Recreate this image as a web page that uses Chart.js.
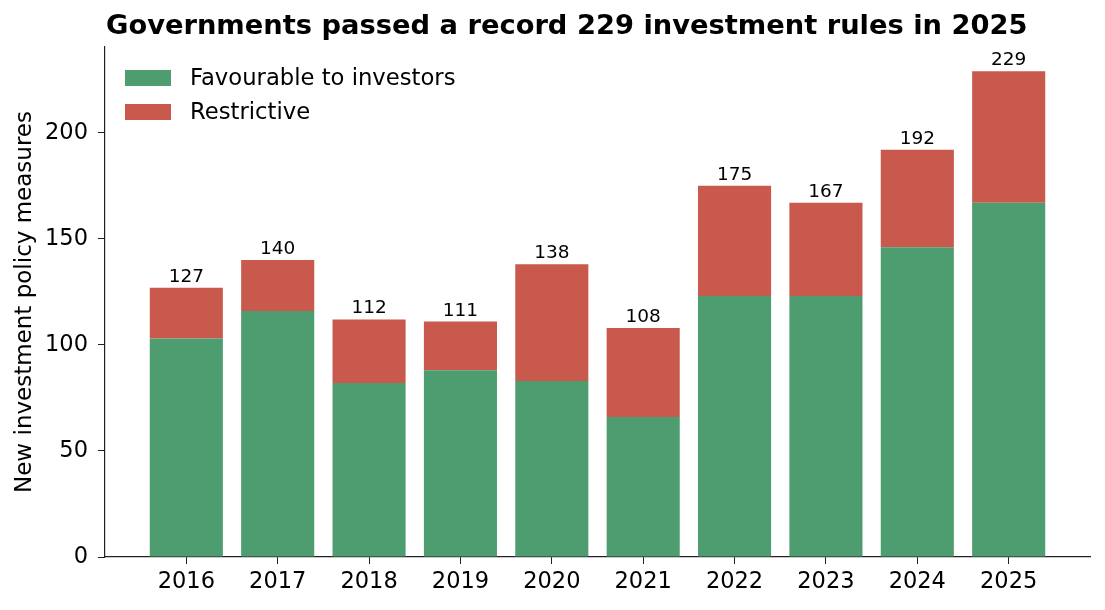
<!DOCTYPE html>
<html>
<head>
<meta charset="utf-8">
<script src="https://cdn.jsdelivr.net/npm/chart.js@4"></script>
<style>
  html, body { margin: 0; padding: 0; background: #fff; }
  #wrap { width: 1105px; height: 610px; }
</style>
</head>
<body>
<div id="wrap"><canvas id="chart"></canvas></div>
<script>
const years = ['2016','2017','2018','2019','2020','2021','2022','2023','2024','2025'];
const favourable = [103, 116, 82, 88, 83, 66, 123, 123, 146, 167];
const restrictive = [24, 24, 30, 23, 55, 42, 52, 44, 46, 62];
const totals = [127, 140, 112, 111, 138, 108, 175, 167, 192, 229];
const yTicks = [0, 50, 100, 150, 200];

const FONT = "'DejaVu Sans', sans-serif";
const GREEN = '#4e9d70';
const RED = '#c9594c';

// draws title, legend and the totals above bars
const extras = {
  id: 'extras',
  afterDatasetsDraw(chart) {
    const ctx = chart.ctx;
    const area = chart.chartArea;
    const x = chart.scales.x, y = chart.scales.y;
    ctx.save();
    ctx.fillStyle = '#000';
    ctx.font = '18.5px ' + FONT;
    ctx.textAlign = 'center';
    ctx.textBaseline = 'alphabetic';
    totals.forEach((t, i) => {
      ctx.fillText(String(t), x.getPixelForValue(i), y.getPixelForValue(t) - 6);
    });

    ctx.font = 'bold 27.3px ' + FONT;
    ctx.textAlign = 'left';
    ctx.fillText('Governments passed a record 229 investment rules in 2025', area.left + 1, 33.5);

    const items = [['Favourable to investors', GREEN], ['Restrictive', RED]];
    ctx.font = '22.7px ' + FONT;
    ctx.textBaseline = 'middle';
    items.forEach((it, k) => {
      const cy = 78 + k * 34;
      ctx.fillStyle = it[1];
      ctx.fillRect(area.left + 20, cy - 8, 46, 16);
      ctx.fillStyle = '#000';
      ctx.fillText(it[0], area.left + 85, cy + 1);
    });
    ctx.restore();
  }
};

new Chart(document.getElementById('chart'), {
  type: 'bar',
  data: {
    datasets: [{
      label: 'Favourable to investors',
      backgroundColor: GREEN,
      data: favourable.map((v, i) => ({x: i, y: v})),
      barPercentage: 0.8,
      categoryPercentage: 1
    }, {
      label: 'Restrictive',
      backgroundColor: RED,
      data: restrictive.map((v, i) => ({x: i, y: v})),
      barPercentage: 0.8,
      categoryPercentage: 1
    }]
  },
  options: {
    responsive: true,
    maintainAspectRatio: false,
    animation: false,
    layout: { padding: { top: 47, right: 15, left: 0, bottom: 0 } },
    plugins: { legend: { display: false }, tooltip: { enabled: false } },
    scales: {
      x: {
        type: 'linear',
        stacked: true,
        offset: false,
        min: -0.89,
        max: 9.89,
        afterBuildTicks: (s) => { s.ticks = years.map((_, i) => ({value: i})); },
        afterFit: (s) => { s.height = 53; },
        ticks: {
          callback: (v) => years[v],
          autoSkip: false,
          maxRotation: 0,
          padding: 5,
          color: '#000',
          font: { family: FONT, size: 22.5 }
        },
        grid: { offset: false, drawOnChartArea: false, drawTicks: true, tickLength: 7, color: '#222' },
        border: { color: '#222', width: 1.2 }
      },
      y: {
        stacked: true,
        min: 0,
        max: 240.45,
        afterBuildTicks: (s) => { s.ticks = yTicks.map(v => ({value: v})); },
        afterFit: (s) => { s.width = 105; },
        ticks: {
          padding: 10,
          color: '#000',
          font: { family: FONT, size: 22.5 }
        },
        title: {
          display: true,
          text: 'New investment policy measures',
          color: '#000',
          font: { family: FONT, size: 23 },
          padding: { top: 11, bottom: 0 }
        },
        grid: { drawOnChartArea: false, drawTicks: true, tickLength: 7, color: '#222' },
        border: { color: '#222', width: 1.2 }
      }
    }
  },
  plugins: [extras]
});
</script>
</body>
</html>
